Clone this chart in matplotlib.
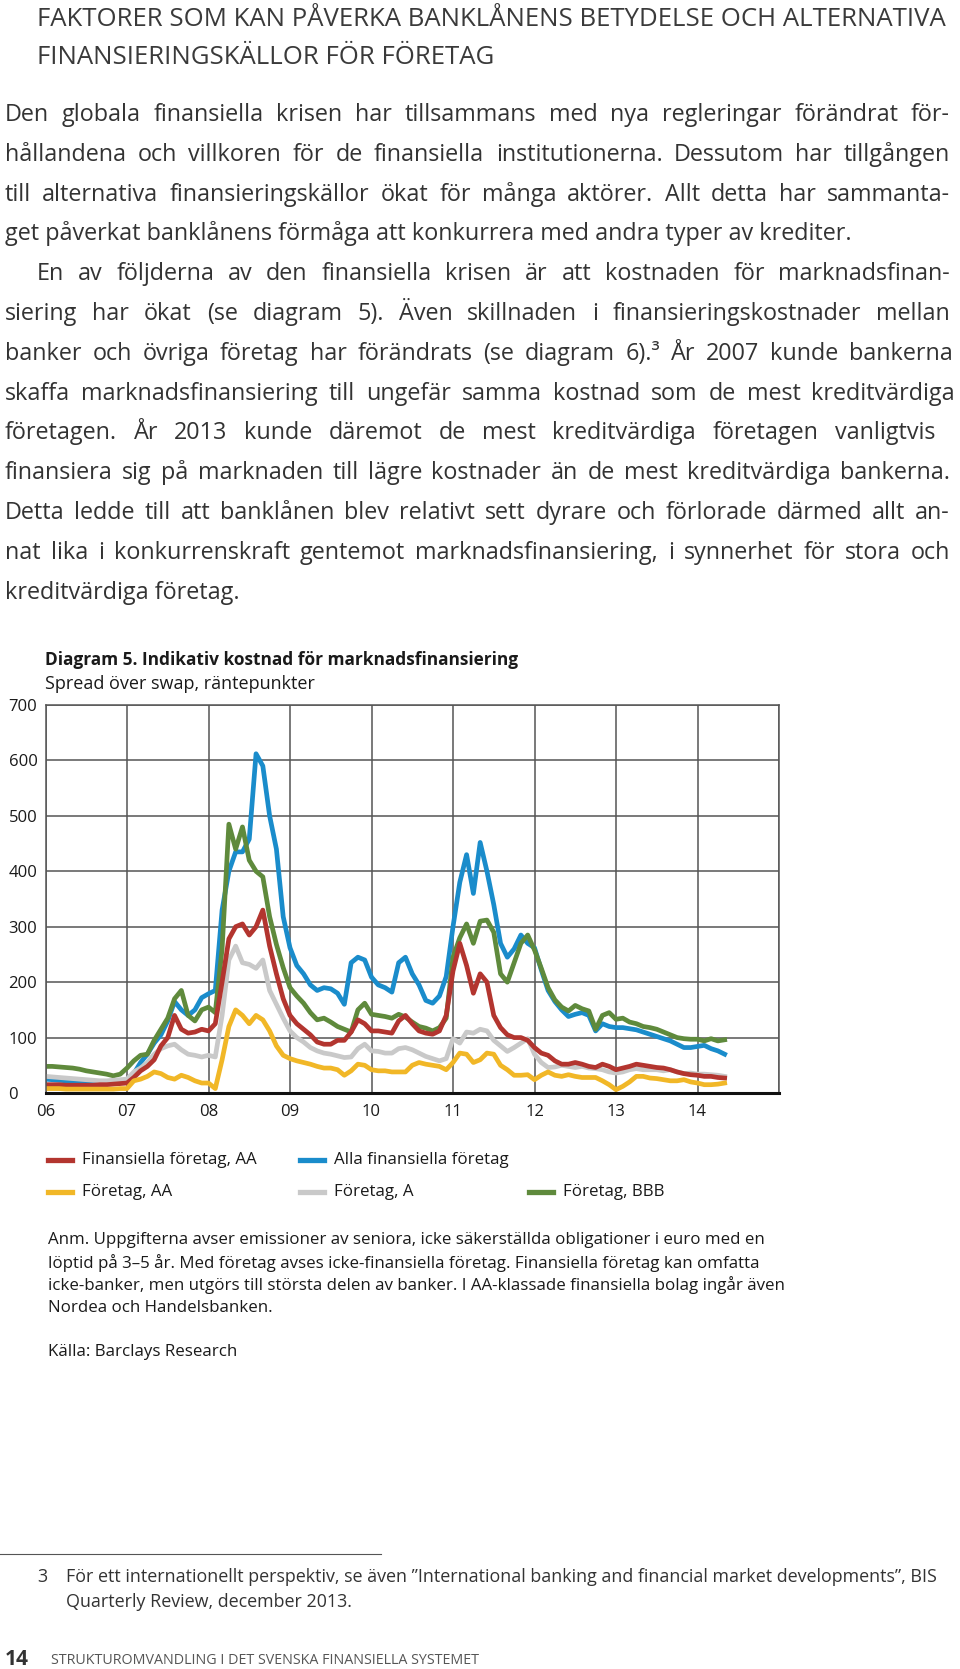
import matplotlib
matplotlib.use("Agg")
import matplotlib.pyplot as plt
from matplotlib.lines import Line2D
import numpy as np

plt.rcParams['font.family'] = ['Open Sans', 'DejaVu Sans']

W, H = 960, 1669
TXT = '#333333'

# monthly spreads over swap, basis points, jan 2006 - may 2014
fin_aa = [15, 15, 15, 14, 14, 14, 14, 14, 15, 15, 16, 17,
          18, 28, 40, 48, 60, 85, 100, 140, 115, 108, 110, 115,
          112, 125, 200, 278, 300, 305, 285, 300, 330, 265, 215, 170,
          140, 125, 115, 105, 92, 88, 88, 95, 95, 110, 132, 125,
          112, 112, 110, 108, 130, 140, 125, 112, 108, 106, 112, 140,
          220, 270, 230, 180, 215, 200, 140, 118, 105, 100, 100, 95,
          82, 72, 68, 58, 52, 52, 55, 52, 48, 46, 52, 48,
          42, 45, 48, 52, 50, 48, 46, 45, 42, 38, 35, 33,
          32, 30, 30, 28, 27]
alla_fin = [25, 24, 23, 22, 21, 20, 20, 19, 19, 18, 19, 20,
            25, 35, 55, 70, 90, 105, 130, 165, 150, 140, 150, 172,
            179, 185, 330, 400, 435, 435, 458, 612, 590, 500, 440, 318,
            262, 230, 215, 195, 185, 190, 188, 180, 160, 235, 245, 240,
            209, 195, 190, 182, 235, 245, 215, 195, 167, 162, 175, 210,
            300, 380, 430, 360, 452, 400, 340, 270, 245, 260, 285, 270,
            262, 222, 185, 165, 150, 138, 142, 145, 140, 112, 125, 120,
            118, 118, 116, 114, 110, 106, 102, 98, 94, 88, 82, 82,
            84, 86, 80, 76, 70]
ftg_aa = [8, 8, 8, 7, 7, 7, 7, 7, 7, 7, 7, 8,
          8, 22, 25, 30, 38, 35, 28, 25, 32, 28, 22, 18,
          18, 8, 60, 120, 150, 140, 125, 140, 132, 112, 85, 68,
          62, 58, 55, 52, 48, 45, 45, 42, 32, 40, 52, 50,
          42, 40, 40, 38, 38, 38, 50, 55, 52, 50, 48, 42,
          55, 72, 70, 55, 60, 72, 70, 50, 42, 32, 32, 33,
          24, 32, 38, 32, 30, 33, 30, 28, 28, 28, 22, 15,
          6, 12, 20, 30, 30, 27, 26, 24, 22, 22, 24, 20,
          18, 15, 15, 16, 18]
ftg_a = [30, 29, 28, 27, 26, 25, 24, 23, 22, 22, 23, 24,
         25, 38, 45, 55, 70, 80, 85, 88, 78, 70, 68, 65,
         68, 65, 140, 240, 265, 235, 232, 225, 240, 185, 160, 135,
         112, 100, 92, 82, 76, 72, 70, 67, 64, 65, 80, 88,
         76, 75, 72, 72, 80, 82, 78, 72, 66, 62, 58, 62,
         98, 90, 110, 108, 115, 112, 95, 85, 75, 82, 90, 98,
         70, 55, 46, 47, 50, 48, 46, 48, 45, 44, 42, 38,
         36, 38, 42, 44, 42, 42, 42, 40, 42, 38, 35, 36,
         34, 34, 33, 32, 30]
ftg_bbb = [48, 48, 47, 46, 45, 43, 40, 38, 36, 34, 31, 34,
           45, 58, 68, 70, 95, 115, 135, 170, 185, 140, 130, 150,
           155, 145, 260, 485, 440, 480, 420, 400, 390, 318, 268, 226,
           190, 175, 162, 145, 132, 135, 128, 120, 115, 110, 150, 162,
           142, 140, 138, 135, 142, 137, 128, 120, 117, 112, 118, 135,
           245, 280, 305, 270, 310, 312, 290, 215, 200, 235, 270, 285,
           258, 225, 190, 168, 155, 148, 158, 152, 148, 115, 140, 145,
           133, 135, 128, 125, 120, 118, 115, 110, 105, 100, 98, 97,
           97, 94, 98, 94, 96]

dates = 2006 + np.arange(len(fin_aa)) / 12.0
years = list(range(2006, 2016))
year_labels = ['06', '07', '08', '09', '10', '11', '12', '13', '14', '']
y_ticks = [0, 100, 200, 300, 400, 500, 600, 700]

series = [('Alla finansiella företag', alla_fin, '#1a8ccb'),
          ('Företag, BBB', ftg_bbb, '#5f8a3c'),
          ('Företag, A', ftg_a, '#c9c9c9'),
          ('Finansiella företag, AA', fin_aa, '#b3352f'),
          ('Företag, AA', ftg_aa, '#f1b727')]
colors = {name: c for name, _, c in series}

fig = plt.figure(figsize=(W / 100, H / 100), dpi=100)


def put(x, y, s, **kw):
    # x, y in pixels from top left
    kw.setdefault('va', 'center')
    kw.setdefault('color', TXT)
    return fig.text(x / W, 1 - y / H, s, **kw)


def justified(y, x0, x1, line, **kw):
    words = line.split()
    arts = [put(x0, y, w, **kw) for w in words]
    r = fig.canvas.get_renderer()
    widths = [a.get_window_extent(r).width for a in arts]
    gap = (x1 - x0 - sum(widths)) / (len(words) - 1)
    x = x0
    for a, w in zip(arts, widths):
        a.set_x(x / W)
        x += w + gap


# heading
put(37, 19, 'FAKTORER SOM KAN PÅVERKA BANKLÅNENS BETYDELSE OCH ALTERNATIVA', fontsize=18.5, color='#3a3a3a')
put(37, 57, 'FINANSIERINGSKÄLLOR FÖR FÖRETAG', fontsize=18.5, color='#3a3a3a')

# body text, line by line as in the print
body = [
    (5, 950, 'Den globala finansiella krisen har tillsammans med nya regleringar förändrat för-'),
    (5, 950, 'hållandena och villkoren för de finansiella institutionerna. Dessutom har tillgången'),
    (5, 950, 'till alternativa finansieringskällor ökat för många aktörer. Allt detta har sammanta-'),
    (5, None, 'get påverkat banklånens förmåga att konkurrera med andra typer av krediter.'),
    (37, 950, 'En av följderna av den finansiella krisen är att kostnaden för marknadsfinan-'),
    (5, 950, 'siering har ökat (se diagram 5). Även skillnaden i finansieringskostnader mellan'),
    (5, 953, 'banker och övriga företag har förändrats (se diagram 6).³ År 2007 kunde bankerna'),
    (5, 955, 'skaffa marknadsfinansiering till ungefär samma kostnad som de mest kreditvärdiga'),
    (5, 935, 'företagen. År 2013 kunde däremot de mest kreditvärdiga företagen vanligtvis'),
    (5, 950, 'finansiera sig på marknaden till lägre kostnader än de mest kreditvärdiga bankerna.'),
    (5, 950, 'Detta ledde till att banklånen blev relativt sett dyrare och förlorade därmed allt an-'),
    (5, 950, 'nat lika i konkurrenskraft gentemot marknadsfinansiering, i synnerhet för stora och'),
    (5, None, 'kreditvärdiga företag.'),
]
for i, (x0, x1, line) in enumerate(body):
    y = 121 + i * 39.8
    if x1 is None:
        put(x0, y, line, fontsize=16.8, va='baseline')
    else:
        justified(y, x0, x1, line, fontsize=16.8, va='baseline')

# chart titles
put(45, 660, 'Diagram 5. Indikativ kostnad för marknadsfinansiering',
    fontsize=12.4, fontweight='bold', color='#1a1a1a')
put(45, 684, 'Spread över swap, räntepunkter', fontsize=13, color='#1a1a1a')

# chart
ax = fig.add_axes([45.5 / W, 1 - 1093 / H, (779 - 45.5) / W, (1093 - 705) / H])
for name, vals, c in series:
    ax.plot(dates, vals, color=c, lw=3.4, solid_joinstyle='round')
ax.set_xlim(2006, 2015)
ax.set_ylim(0, 700)
ax.set_xticks(years)
ax.set_xticklabels(year_labels)
ax.set_yticks(y_ticks)
ax.grid(True, color='#555555', lw=1.1)
ax.set_axisbelow(True)
ax.tick_params(axis='both', length=0, labelsize=12, colors='#1a1a1a')
ax.tick_params(axis='y', pad=26.6)
ax.tick_params(axis='x', pad=8)
for lab in ax.get_yticklabels():
    lab.set_horizontalalignment('left')
for side in ['top', 'right', 'left']:
    ax.spines[side].set_color('#555555')
    ax.spines[side].set_linewidth(1.1)
ax.spines['bottom'].set_color('#111111')
ax.spines['bottom'].set_linewidth(2.2)

# legend, drawn by hand to keep the print's two rows
legend_rows = [
    (1160, [(48, 'Finansiella företag, AA'), (300, 'Alla finansiella företag')]),
    (1192, [(48, 'Företag, AA'), (300, 'Företag, A'), (529, 'Företag, BBB')]),
]
for y, items in legend_rows:
    for x, name in items:
        fig.add_artist(Line2D([x / W, (x + 24) / W], [1 - y / H, 1 - y / H],
                              color=colors[name], lw=3.8, transform=fig.transFigure))
        put(x + 34, y, name, fontsize=12.2, color='#1a1a1a')

# notes
notes = ['Anm. Uppgifterna avser emissioner av seniora, icke säkerställda obligationer i euro med en',
         'löptid på 3–5 år. Med företag avses icke-finansiella företag. Finansiella företag kan omfatta',
         'icke-banker, men utgörs till största delen av banker. I AA-klassade finansiella bolag ingår även',
         'Nordea och Handelsbanken.']
for i, line in enumerate(notes):
    put(48, 1240 + i * 22.7, line, fontsize=12.2, color='#1a1a1a')
put(48, 1352, 'Källa: Barclays Research', fontsize=12.2, color='#1a1a1a')

# footnote
fig.add_artist(Line2D([0, 381 / W], [1 - 1554 / H, 1 - 1554 / H],
                      color='#555555', lw=0.8, transform=fig.transFigure))
put(37, 1577, '3', fontsize=12.9)
put(66, 1577, 'För ett internationellt perspektiv, se även ”International banking and financial market developments”, BIS',
    fontsize=12.9)
put(66, 1602, 'Quarterly Review, december 2013.', fontsize=12.9)

# page footer
put(5, 1659, '14', fontsize=15, fontweight='bold')
put(51, 1660, 'STRUKTUROMVANDLING I DET SVENSKA FINANSIELLA SYSTEMET', fontsize=10.3, color='#555555')

fig.savefig('out.png', dpi=100)
